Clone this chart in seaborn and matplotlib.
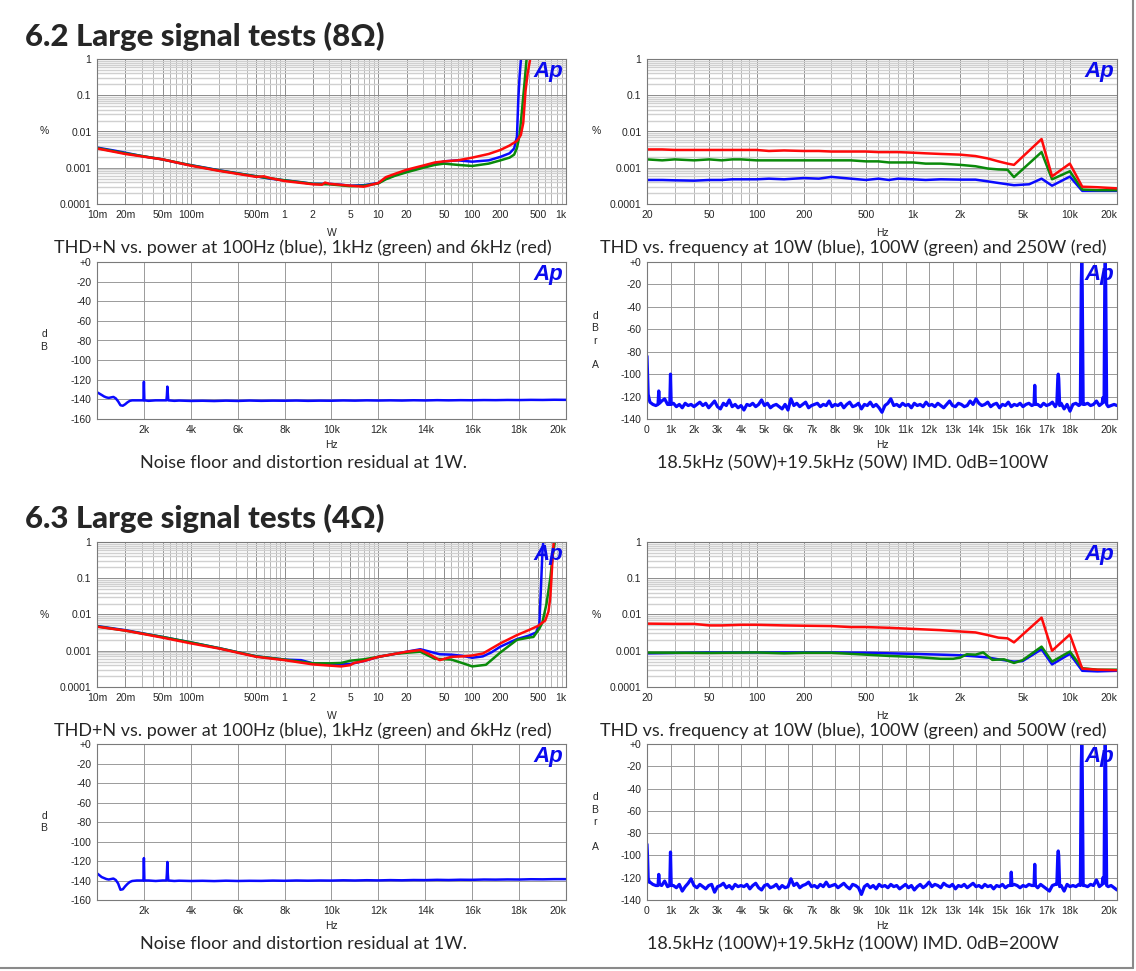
import numpy as np
import pandas as pd
import matplotlib
matplotlib.use("Agg")
import matplotlib.pyplot as plt
import seaborn as sns
from matplotlib.ticker import LogLocator, NullFormatter, MultipleLocator
from matplotlib.lines import Line2D

# ---------------- data ----------------
# 8 ohm THD+N vs power (W, %)
p8_blue_w = [0.01, 0.015, 0.02, 0.03, 0.05, 0.07, 0.1, 0.15, 0.2, 0.3, 0.5, 0.7, 1, 1.5, 2, 2.5, 3, 4, 5, 7, 10, 12, 15, 20, 30, 40, 50, 70, 100, 150, 200, 250, 280, 300, 310, 320, 330, 340]
p8_blue_pct = [0.0036, 0.003, 0.0026, 0.0021, 0.0017, 0.0014, 0.00118, 0.00098, 0.00085, 0.00072, 0.00058, 0.0005, 0.00045, 0.0004, 0.00036, 0.00036, 0.00036, 0.00034, 0.00032, 0.00033, 0.00038, 0.0005, 0.00062, 0.0008, 0.00105, 0.00125, 0.0015, 0.0016, 0.00147, 0.0016, 0.002, 0.0025, 0.0034, 0.0072, 0.075, 0.33, 0.9, 1.5]
p8_green_w = [0.01, 0.02, 0.05, 0.1, 0.2, 0.5, 1, 2, 3, 5, 7, 10, 12, 15, 20, 30, 40, 50, 70, 100, 150, 200, 250, 280, 300, 320, 340, 360, 380, 390]
p8_green_pct = [0.0035, 0.0025, 0.0017, 0.00117, 0.00084, 0.00058, 0.00045, 0.00036, 0.00035, 0.00031, 0.00032, 0.00037, 0.00048, 0.0006, 0.00075, 0.001, 0.0012, 0.0013, 0.0012, 0.00112, 0.0013, 0.0016, 0.0019, 0.0023, 0.0035, 0.008, 0.04, 0.2, 1.0, 1.5]
p8_red_w = [0.01, 0.02, 0.05, 0.1, 0.2, 0.5, 0.6, 0.7, 1, 2, 2.5, 2.7, 3, 5, 7, 10, 12, 15, 20, 30, 40, 50, 70, 100, 150, 200, 250, 300, 330, 350, 370, 390, 415, 425]
p8_red_pct = [0.0034, 0.0024, 0.0017, 0.00114, 0.00082, 0.00056, 0.00058, 0.00052, 0.00043, 0.00035, 0.00034, 0.00039, 0.00036, 0.00032, 0.0003, 0.00038, 0.00055, 0.00068, 0.00088, 0.00115, 0.0014, 0.0015, 0.0016, 0.0019, 0.0024, 0.0031, 0.0041, 0.0055, 0.008, 0.017, 0.13, 0.4, 1.0, 1.5]

# 8 ohm THD vs frequency (Hz, %)
f8_blue_hz = [20, 25, 30, 40, 50, 60, 70, 80, 100, 120, 150, 200, 250, 300, 400, 500, 600, 700, 800, 1000, 1200, 1500, 2000, 2500, 3000, 3500, 4000, 4400, 5500, 6600, 7700, 10000, 12000, 15000, 20000]
f8_blue_pct = [0.00046, 0.00046, 0.00045, 0.00044, 0.00046, 0.00046, 0.00048, 0.00048, 0.00048, 0.0005, 0.00048, 0.00052, 0.0005, 0.00056, 0.0005, 0.00046, 0.0005, 0.00046, 0.0005, 0.00048, 0.00046, 0.00048, 0.00047, 0.00047, 0.00042, 0.00038, 0.00035, 0.00033, 0.00035, 0.0005, 0.00032, 0.00057, 0.00023, 0.00023, 0.00023]
f8_green_hz = [20, 25, 30, 40, 50, 60, 70, 80, 100, 120, 150, 200, 250, 300, 400, 500, 600, 700, 800, 1000, 1200, 1500, 2000, 2500, 3000, 3500, 4000, 4400, 6600, 7700, 10000, 12000, 15000, 20000]
f8_green_pct = [0.0017, 0.0016, 0.0017, 0.0016, 0.0017, 0.0016, 0.0017, 0.0017, 0.0016, 0.0016, 0.0016, 0.0016, 0.0016, 0.0016, 0.0016, 0.0015, 0.0015, 0.0014, 0.0014, 0.0014, 0.0013, 0.0013, 0.0012, 0.0011, 0.00095, 0.0009, 0.00088, 0.00055, 0.0027, 0.00048, 0.0008, 0.00025, 0.00024, 0.00024]
f8_red_hz = [20, 25, 30, 40, 50, 60, 70, 80, 100, 120, 150, 200, 250, 300, 400, 500, 600, 700, 800, 1000, 1200, 1500, 2000, 2500, 3000, 3500, 4000, 4400, 6600, 7700, 10000, 12000, 15000, 20000]
f8_red_pct = [0.0032, 0.0032, 0.0031, 0.0031, 0.0031, 0.0031, 0.0031, 0.0031, 0.0031, 0.0029, 0.003, 0.0029, 0.0029, 0.0028, 0.0028, 0.0028, 0.0027, 0.0027, 0.0027, 0.0026, 0.0025, 0.0024, 0.0023, 0.0021, 0.0018, 0.0015, 0.0013, 0.0012, 0.0062, 0.00058, 0.0013, 0.0003, 0.00029, 0.00027]

# noise floor at 1W (Hz, dB)
noise_hz = [20, 200, 300, 400, 500, 600, 700, 800, 900, 1000, 1100, 1200, 1300, 1400, 1500, 1700, 1900, 1980, 2000, 2020, 2200, 2500, 2800, 2960, 2980, 3000, 3020, 3040, 3300] + list(range(3500, 20001, 500))
noise8_db = [-133, -135.5, -137, -138, -138.5, -138, -137.5, -139, -142, -146, -146.5, -145, -143, -141.5, -141, -141, -141, -141, -122, -141, -141.5, -141, -141, -141, -136, -127, -134, -141, -141.5,
             -141.2, -141.6, -141.4, -141.7, -141.3, -141.6, -141.2, -141.5, -141.3, -141.4, -141.2, -141.5, -141.3, -141.4, -141.1, -141.3, -141.0,
             -141.2, -141.0, -141.2, -140.9, -141.1, -140.8, -141.0, -140.8, -140.9, -140.7, -140.8, -140.6, -140.7, -140.5, -140.6, -140.4, -140.5]
noise4_db = [-133, -136.5, -137.5, -138.5, -139, -138.5, -138, -139.5, -143, -149.5, -149, -146, -143.5, -141.5, -140.5, -140, -140, -140, -117, -140, -140, -140.5, -140, -140, -133, -121, -133, -140, -140.5,
             -140.2, -140.5, -140.3, -140.6, -140.2, -140.5, -140.3, -140.4, -140.1, -140.3, -140.0, -140.2, -140.0, -140.1, -139.8, -140.0, -139.7,
             -139.9, -139.6, -139.8, -139.5, -139.6, -139.3, -139.5, -139.2, -139.3, -139.0, -139.1, -138.9, -139.0, -138.7, -138.8, -138.6, -138.6]

# IMD spectra (floor every 125 Hz from 125 Hz to 20 kHz, dBr)
imd_floor_step = 125
imd8_lead_hz = [0, 25, 50, 90]
imd8_lead_db = [-84, -100, -118, -122]
imd8_floor_db = [-125, -127, -128, -127, -124, -122, -127, -127, -126, -129, -127, -130, -126, -128, -127, -129,
                 -127, -125, -128, -126, -130, -127, -124, -129, -131, -126, -128, -123, -129, -127, -130, -128,
                 -132, -127, -128, -126, -129, -127, -123, -128, -126, -130, -128, -127, -129, -131, -127, -132,
                 -122, -128, -126, -129, -127, -125, -130, -128, -127, -126, -129, -127, -128, -124, -129, -127,
                 -128, -126, -130, -127, -125, -129, -128, -126, -131, -127, -128, -125, -129, -127, -130, -134,
                 -128, -126, -122, -128, -127, -129, -126, -128, -127, -130, -126, -128, -127, -129, -125, -128,
                 -127, -129, -126, -128, -130, -127, -124, -128, -129, -126, -127, -129, -128, -124, -127, -122,
                 -126, -128, -127, -125, -129, -127, -126, -130, -127, -128, -125, -129, -127, -128, -126, -129,
                 -127, -126, -128, -125, -127, -129, -126, -128, -127, -125, -129, -128, -126, -131, -127, -133,
                 -127, -126, -128, -129, -127, -126, -128, -127, -124, -128, -127, -126, -129, -128, -127, -128]
imd8_peak_hz = [470, 500, 530, 970, 1000, 1030, 16470, 16500, 16530, 17440, 17480, 17500, 17520, 17560,
                18440, 18480, 18500, 18520, 18560, 19370, 19400, 19430, 19450, 19480, 19500, 19520, 19560]
imd8_peak_db = [-127, -115, -126, -127, -100, -127, -127, -110, -127, -126, -104, -100, -104, -128,
                -127, -20, 0, -20, -127, -126, -121, -125, -125, -20, -1, -20, -127]

imd4_lead_hz = [0, 25, 50, 90]
imd4_lead_db = [-90, -102, -120, -124]
imd4_floor_db = [-124, -126, -127, -125, -127, -123, -128, -126, -127, -129, -126, -132, -128, -125, -121, -127,
                 -129, -126, -128, -130, -127, -126, -133, -128, -127, -125, -129, -127, -130, -126, -128, -127,
                 -128, -126, -130, -127, -125, -129, -131, -127, -126, -129, -128, -126, -130, -127, -129, -128,
                 -121, -127, -125, -129, -127, -126, -124, -128, -127, -129, -126, -128, -124, -128, -127, -126,
                 -129, -127, -125, -128, -130, -126, -127, -129, -135, -128, -126, -129, -127, -130, -126, -128,
                 -127, -129, -126, -128, -127, -130, -128, -126, -129, -127, -131, -128, -126, -129, -127, -124,
                 -128, -126, -127, -129, -125, -127, -128, -126, -130, -127, -128, -126, -129, -127, -125, -128,
                 -127, -129, -126, -128, -127, -130, -127, -128, -126, -129, -127, -128, -126, -127, -129, -127,
                 -128, -126, -127, -125, -129, -126, -128, -130, -132, -127, -126, -128, -127, -132, -126, -128,
                 -127, -128, -126, -129, -127, -128, -126, -127, -122, -128, -127, -126, -128, -127, -129, -131]
imd4_peak_hz = [470, 500, 530, 970, 1000, 1030, 15470, 15500, 15530, 16470, 16500, 16530, 17440, 17480, 17500, 17520, 17560,
                18440, 18480, 18500, 18520, 18560, 19370, 19400, 19430, 19450, 19480, 19500, 19520, 19560]
imd4_peak_db = [-127, -117, -126, -127, -97, -127, -127, -115, -127, -127, -108, -127, -126, -100, -96, -100, -128,
                -127, -20, 0, -20, -127, -126, -120, -125, -125, -20, 0, -20, -127]

# 4 ohm THD+N vs power
p4_blue_w = [0.01, 0.02, 0.05, 0.1, 0.2, 0.5, 1, 1.5, 2, 3, 4, 5, 7, 10, 15, 20, 28, 35, 45, 60, 80, 100, 130, 160, 200, 300, 400, 480, 520, 540, 560, 580]
p4_blue_pct = [0.0048, 0.0037, 0.0024, 0.0017, 0.00118, 0.0007, 0.00057, 0.00055, 0.00045, 0.00043, 0.00042, 0.00043, 0.00052, 0.00068, 0.00082, 0.00094, 0.0011, 0.00095, 0.0008, 0.00078, 0.00072, 0.00064, 0.0007, 0.0009, 0.0013, 0.0021, 0.0026, 0.0032, 0.0055, 0.05, 0.5, 1.5]
p4_green_w = [0.01, 0.02, 0.05, 0.1, 0.2, 0.5, 1, 2, 3, 4, 5, 7, 10, 15, 20, 28, 40, 60, 80, 100, 140, 160, 200, 300, 400, 450, 520, 560, 620, 680, 720, 760, 790]
p4_green_pct = [0.0047, 0.0036, 0.0024, 0.0017, 0.00118, 0.0007, 0.00057, 0.00045, 0.00045, 0.00046, 0.00053, 0.00058, 0.00068, 0.00082, 0.00088, 0.00094, 0.0006, 0.00057, 0.00045, 0.00037, 0.00041, 0.00055, 0.0009, 0.002, 0.0023, 0.0024, 0.0041, 0.006, 0.02, 0.1, 0.4, 1.0, 1.5]
p4_red_w = [0.01, 0.02, 0.05, 0.1, 0.2, 0.5, 1, 2, 3, 4, 5, 5.5, 7, 10, 15, 20, 28, 35, 45, 60, 80, 100, 130, 200, 300, 400, 500, 600, 650, 680, 700, 720, 740, 760]
p4_red_pct = [0.0046, 0.0036, 0.0023, 0.0016, 0.00115, 0.00068, 0.00055, 0.00042, 0.00039, 0.00037, 0.0004, 0.00046, 0.00052, 0.00068, 0.00082, 0.00094, 0.00105, 0.0008, 0.00055, 0.00068, 0.0007, 0.00074, 0.00084, 0.0016, 0.0027, 0.0037, 0.0048, 0.0068, 0.012, 0.03, 0.1, 0.4, 1.0, 1.5]

# 4 ohm THD vs frequency
f4_blue_hz = [20, 50, 100, 200, 300, 500, 700, 1000, 1500, 2000, 2500, 3000, 3500, 4400, 5000, 6600, 7700, 10000, 12000, 15000, 20000]
f4_blue_pct = [0.00085, 0.0009, 0.0009, 0.0009, 0.0009, 0.00088, 0.00085, 0.00082, 0.00078, 0.00075, 0.0007, 0.00065, 0.00058, 0.0005, 0.00052, 0.0011, 0.00042, 0.00082, 0.00028, 0.00027, 0.00028]
f4_green_hz = [20, 50, 100, 150, 200, 300, 500, 700, 1000, 1500, 1800, 2000, 2200, 2500, 2800, 3200, 3800, 4400, 5000, 6600, 7700, 10000, 12000, 15000, 20000]
f4_green_pct = [0.00089, 0.00087, 0.0009, 0.00085, 0.00088, 0.00088, 0.00078, 0.00072, 0.00068, 0.0006, 0.0006, 0.00065, 0.0008, 0.00078, 0.0009, 0.00056, 0.00058, 0.00046, 0.00055, 0.0013, 0.0005, 0.00095, 0.00033, 0.0003, 0.0003]
f4_red_hz = [20, 30, 40, 50, 60, 80, 100, 150, 200, 300, 400, 500, 700, 1000, 1500, 2000, 2500, 3000, 3500, 4000, 4400, 6600, 7700, 10000, 12000, 15000, 20000]
f4_red_pct = [0.0056, 0.0055, 0.0055, 0.005, 0.005, 0.0052, 0.0052, 0.005, 0.0049, 0.0048, 0.0045, 0.0045, 0.0043, 0.004, 0.0037, 0.0034, 0.0032, 0.0027, 0.0023, 0.0022, 0.0017, 0.0082, 0.001, 0.0028, 0.00032, 0.0003, 0.00029]

# tick labels
pct_ticks = [1e-4, 1e-3, 1e-2, 1e-1, 1]
pct_labels = ["0.0001", "0.001", "0.01", "0.1", "1"]
watt_ticks = [0.01, 0.02, 0.05, 0.1, 0.5, 1, 2, 5, 10, 20, 50, 100, 200, 500, 1000]
watt_labels = ["10m", "20m", "50m", "100m", "500m", "1", "2", "5", "10", "20", "50", "100", "200", "500", "1k"]
freq_ticks = [20, 50, 100, 200, 500, 1000, 2000, 5000, 10000, 20000]
freq_labels = ["20", "50", "100", "200", "500", "1k", "2k", "5k", "10k", "20k"]
noise_ticks = [2000, 4000, 6000, 8000, 10000, 12000, 14000, 16000, 18000, 20000]
noise_labels = ["2k", "4k", "6k", "8k", "10k", "12k", "14k", "16k", "18k", "20k"]
imd_ticks = list(range(0, 20001, 1000))
imd_labels = ["0"] + [f"{k}k" for k in range(1, 19)] + ["", "20k"]

captions = {
    "A": "THD+N vs. power at 100Hz (blue), 1kHz (green) and 6kHz (red)",
    "B": "THD vs. frequency at 10W (blue), 100W (green) and 250W (red)",
    "C": "Noise floor and distortion residual at 1W.",
    "D": "18.5kHz (50W)+19.5kHz (50W) IMD. 0dB=100W",
    "E": "THD+N vs. power at 100Hz (blue), 1kHz (green) and 6kHz (red)",
    "F": "THD vs. frequency at 10W (blue), 100W (green) and 500W (red)",
    "G": "Noise floor and distortion residual at 1W.",
    "H": "18.5kHz (100W)+19.5kHz (100W) IMD. 0dB=200W",
}
headings = ["6.2 Large signal tests (8Ω)", "6.3 Large signal tests (4Ω)"]

# ---------------- figure ----------------
sns.set_style("white")
plt.rcParams["font.family"] = ["Liberation Sans", "DejaVu Sans"]

W, H = 1136, 971
fig = plt.figure(figsize=(W / 100, H / 100), dpi=100)
fig.patch.set_facecolor("white")

BLUE, GREEN, RED = "#0a0aff", "#0a8a0a", "#ff0a0a"
LW = 1.8
CAP_FONT = ["Lato", "DejaVu Sans"]
CAP_SIZE = 13
TICK_SIZE = 7.5


def rect(x0, y0, x1, y1):
    return [x0 / W, 1 - y1 / H, (x1 - x0) / W, (y1 - y0) / H]


def ftext(x, y, s, **kw):
    fig.text(x / W, 1 - y / H, s, **kw)


def base(ax):
    for sp in ax.spines.values():
        sp.set_color("#7a7a7a")
        sp.set_linewidth(0.8)
    ax.set_axisbelow(True)
    ax.set_xlabel("")
    ax.set_ylabel("")
    ax.text(0.994, 0.985, "Ap", transform=ax.transAxes, ha="right", va="top",
            color="#0a0aee", fontsize=16, fontweight="bold", style="italic",
            family=["Liberation Sans", "DejaVu Sans"], zorder=5)


def style_log(ax, xlim, xt, xl):
    ax.set_xscale("log")
    ax.set_yscale("log")
    ax.set_xlim(*xlim)
    ax.set_ylim(1e-4, 1)
    ax.set_yticks(pct_ticks)
    ax.set_yticklabels(pct_labels)
    ax.set_xticks(xt)
    ax.set_xticklabels(xl)
    ax.xaxis.set_minor_locator(LogLocator(base=10, subs=np.arange(2, 10), numticks=100))
    ax.yaxis.set_minor_locator(LogLocator(base=10, subs=np.arange(2, 10), numticks=100))
    ax.xaxis.set_minor_formatter(NullFormatter())
    ax.yaxis.set_minor_formatter(NullFormatter())
    ax.grid(True, which="major", axis="both", color="#8c8c8c", lw=0.7)
    ax.grid(True, which="minor", axis="x", color="#a8a8a8", lw=0.6)
    ax.grid(True, which="minor", axis="y", color="#d0d0d0", lw=1.0)
    ax.tick_params(which="both", length=0, labelsize=TICK_SIZE, pad=4)
    ax.get_xticklabels()[-1].set_ha("right")
    base(ax)


def style_db(ax, ymin, xt, xl, xminor, yminor):
    ax.set_xlim(0, 20000)
    ax.set_ylim(ymin, 0)
    yt = list(range(ymin, 1, 20))
    ax.set_yticks(yt)
    ax.set_yticklabels(["+0" if v == 0 else str(v) for v in yt])
    ax.set_xticks(xt)
    ax.set_xticklabels(xl)
    ax.xaxis.set_minor_locator(MultipleLocator(xminor))
    ax.yaxis.set_minor_locator(MultipleLocator(yminor))
    ax.grid(True, which="major", color="#9a9a9a", lw=0.7)
    ax.tick_params(which="major", length=0, labelsize=TICK_SIZE, pad=4)
    ax.tick_params(axis="x", which="minor", direction="in", length=7, width=0.7, color="#c4c4c4")
    ax.tick_params(axis="y", which="minor", direction="in", length=3, width=0.7, color="#c4c4c4")
    ax.get_xticklabels()[-1].set_ha("right")
    base(ax)


def line(ax, x, y, c, lw=LW):
    sns.lineplot(x=np.asarray(x, float), y=np.asarray(y, float), ax=ax, color=c,
                 lw=lw, estimator=None, sort=False, legend=False)


def spectrum(lead_f, lead_db, floor_db, peak_f, peak_db):
    ff = np.arange(1, len(floor_db) + 1) * imd_floor_step
    fd = np.asarray(floor_db, float)
    pf = np.asarray(peak_f, float)
    keep = np.array([np.min(np.abs(pf - f)) > 45 for f in ff])
    df = pd.DataFrame({
        "hz": np.concatenate([lead_f, ff[keep], pf]),
        "db": np.concatenate([lead_db, fd[keep], peak_db]),
    }).sort_values("hz", kind="mergesort")
    return df


# panel rectangles (pixels)
L0, L1 = 97, 566
R0, R1 = 647, 1117
rows = {"A": (59, 204), "C": (262, 419), "E": (542, 687), "G": (744, 900)}

# ---- power panels
for key, (bw, bp, gw, gp, rw, rp) in {
    "A": (p8_blue_w, p8_blue_pct, p8_green_w, p8_green_pct, p8_red_w, p8_red_pct),
    "E": (p4_blue_w, p4_blue_pct, p4_green_w, p4_green_pct, p4_red_w, p4_red_pct),
}.items():
    y0, y1 = rows[key]
    ax = fig.add_axes(rect(L0, y0, L1, y1))
    line(ax, bw, bp, BLUE)
    line(ax, gw, gp, GREEN)
    line(ax, rw, rp, RED)
    style_log(ax, (0.01, 1000), watt_ticks, watt_labels)
    ftext(44, (y0 + y1) / 2, "%", ha="center", va="center", fontsize=TICK_SIZE)
    ftext((L0 + L1) / 2, y1 + 29, "W", ha="center", va="center", fontsize=TICK_SIZE)
    ftext(303, y1 + 44, captions[key], ha="center", va="center", fontsize=CAP_SIZE, family=CAP_FONT)

# ---- frequency panels
for key, ykey, (bh, bp, gh, gp, rh, rp) in [
    ("B", "A", (f8_blue_hz, f8_blue_pct, f8_green_hz, f8_green_pct, f8_red_hz, f8_red_pct)),
    ("F", "E", (f4_blue_hz, f4_blue_pct, f4_green_hz, f4_green_pct, f4_red_hz, f4_red_pct)),
]:
    y0, y1 = rows[ykey]
    ax = fig.add_axes(rect(R0, y0, R1, y1))
    line(ax, bh, bp, BLUE)
    line(ax, gh, gp, GREEN)
    line(ax, rh, rp, RED)
    style_log(ax, (20, 20000), freq_ticks, freq_labels)
    ftext(596, (y0 + y1) / 2, "%", ha="center", va="center", fontsize=TICK_SIZE)
    ftext((R0 + R1) / 2, y1 + 29, "Hz", ha="center", va="center", fontsize=TICK_SIZE)
    ftext(853, y1 + 44, captions[key], ha="center", va="center", fontsize=CAP_SIZE, family=CAP_FONT)

# ---- noise panels
for key, vals in [("C", noise8_db), ("G", noise4_db)]:
    y0, y1 = rows[key]
    ax = fig.add_axes(rect(L0, y0, L1, y1))
    line(ax, noise_hz, vals, BLUE)
    style_db(ax, -160, noise_ticks, noise_labels, 500, 5)
    ftext(44, (y0 + y1) / 2, "d\nB", ha="center", va="center", fontsize=TICK_SIZE, linespacing=1.3)
    ftext((L0 + L1) / 2, y1 + 26, "Hz", ha="center", va="center", fontsize=TICK_SIZE)
    ftext(303, y1 + 44, captions[key], ha="center", va="center", fontsize=CAP_SIZE, family=CAP_FONT)

# ---- IMD panels
for key, ykey, args in [
    ("D", "C", (imd8_lead_hz, imd8_lead_db, imd8_floor_db, imd8_peak_hz, imd8_peak_db)),
    ("H", "G", (imd4_lead_hz, imd4_lead_db, imd4_floor_db, imd4_peak_hz, imd4_peak_db)),
]:
    y0, y1 = rows[ykey]
    ax = fig.add_axes(rect(R0, y0, R1, y1))
    df = spectrum(*args)
    line(ax, df["hz"], df["db"], BLUE, lw=2.3)
    style_db(ax, -140, imd_ticks, imd_labels, 250, 10)
    ftext(595, (y0 + y1) / 2, "d\nB\nr\n\nA", ha="center", va="center", fontsize=TICK_SIZE, linespacing=1.3)
    ftext((R0 + R1) / 2, y1 + 26, "Hz", ha="center", va="center", fontsize=TICK_SIZE)
    ftext(853, y1 + 44, captions[key], ha="center", va="center", fontsize=CAP_SIZE, family=CAP_FONT)

# headings
ftext(25, 36, headings[0], ha="left", va="center", fontsize=22.5, fontweight=900, family=CAP_FONT)
ftext(25, 518, headings[1], ha="left", va="center", fontsize=22.5, fontweight=900, family=CAP_FONT)

# page frame lines
fig.add_artist(Line2D([1133 / W, 1133 / W], [1 - 968 / H, 1], color="#8a8a8a", lw=1.5, transform=fig.transFigure))
fig.add_artist(Line2D([0, 1133 / W], [1 - 968 / H, 1 - 968 / H], color="#8a8a8a", lw=1.5, transform=fig.transFigure))

fig.savefig("out.png", dpi=100, facecolor="white")
